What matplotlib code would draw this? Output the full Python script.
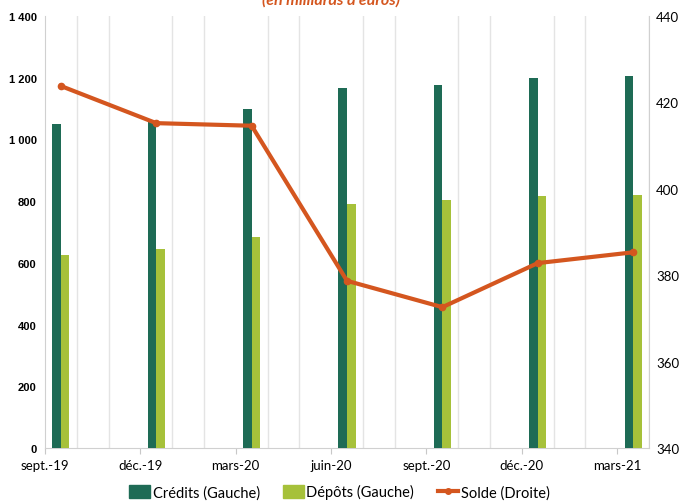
import numpy as np
import matplotlib
matplotlib.use("Agg")
import matplotlib.pyplot as plt
from matplotlib.lines import Line2D
from matplotlib.patches import Patch

quarters = ["sept.-19", "déc.-19", "mars-20", "juin-20", "sept.-20", "déc.-20", "mars-21"]
credits = [1050, 1060, 1100, 1168, 1178, 1200, 1205]
depots = [626, 645, 685, 790, 805, 816, 820]
solde = [423.8, 415.2, 414.6, 378.7, 372.6, 382.8, 385.3]

GREEN = "#1e6b55"
LIME = "#a6c13a"
ORANGE = "#d4561f"

plt.rcParams["font.family"] = ["Lato", "DejaVu Sans"]

fig = plt.figure(figsize=(6.79, 5.02), dpi=100)
ax = fig.add_axes([0.0663, 0.1056, 0.8895, 0.8605])
ax2 = ax.twinx()

# monthly date axis: one quarter = 3 months, bars sit mid-month
months = np.arange(len(quarters)) * 3
w = 0.27
ax.bar(months + 0.5 - w / 2, credits, width=w, color=GREEN, zorder=3)
ax.bar(months + 0.5 + w / 2, depots, width=w, color=LIME, zorder=3)
ax2.plot(months + 0.5, solde, color=ORANGE, lw=3, marker="o", ms=4.5, zorder=4)

ax.set_xlim(0, 19)
ax.set_ylim(0, 1400)
ax2.set_ylim(340, 440)

ax.set_xticks(np.arange(0, 20), minor=True)
ax.grid(True, which="minor", axis="x", color="#e4e4e4", lw=1, zorder=0)
ax.set_xticks(months)
ax.set_xticklabels(quarters, fontsize=9.5)
ax.tick_params(axis="x", which="major", length=4, color="#c8c8c8", pad=4)
ax.tick_params(axis="x", which="minor", length=0)

ax.set_yticks(np.arange(0, 1401, 200))
ax.set_yticklabels([f"{v:,}".replace(",", " ") for v in range(0, 1401, 200)],
                   fontsize=8, fontweight="bold", family="Liberation Sans")
ax.tick_params(axis="y", length=0, pad=6)
ax2.set_yticks(np.arange(340, 441, 20))
ax2.tick_params(axis="y", length=0, labelsize=9.5, pad=5)

for a in (ax, ax2):
    for s in a.spines.values():
        s.set_visible(False)
for side in ("left", "bottom", "right"):
    ax.spines[side].set_visible(True)
    ax.spines[side].set_color("#d0d0d0")

fig.text(0.487, 1.0, "(en milliards d'euros)", ha="center", va="center",
         fontsize=11.5, fontweight="bold", style="italic", color=ORANGE)

handles = [
    Patch(color=GREEN, label="Crédits (Gauche)"),
    Patch(color=LIME, label="Dépôts (Gauche)"),
    Line2D([], [], color=ORANGE, lw=3, marker="o", ms=4, label="Solde (Droite)"),
]
fig.legend(handles=handles, loc="center", bbox_to_anchor=(0.5, 0.018), ncol=3,
           frameon=False, fontsize=10.5, handlelength=1.4, handleheight=0.9,
           handletextpad=0.2, columnspacing=1.6)

fig.savefig("out.png", dpi=100)
